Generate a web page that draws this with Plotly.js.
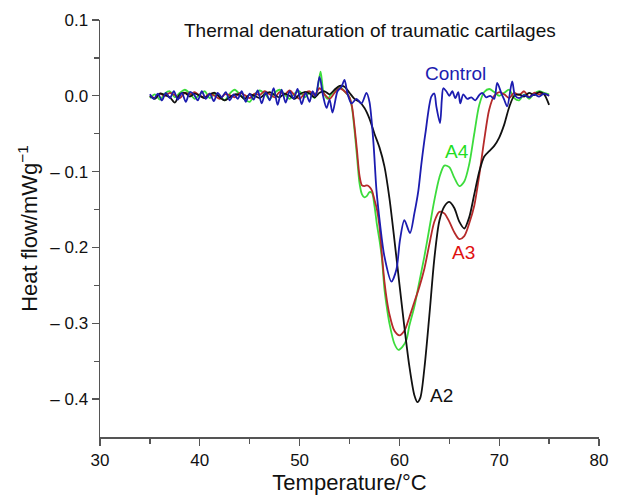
<!DOCTYPE html>
<html>
<head>
<meta charset="utf-8">
<script src="https://cdn.plot.ly/plotly-3.0.1.min.js"></script>
<style>html,body{margin:0;padding:0;background:#fff;}#chart{width:630px;height:495px;}</style>
</head>
<body>
<div id="chart"></div>
<script>
// Temperature (°C) and heat flow (mW/g)
var tA2 = [35,35.5,36,36.5,37,37.5,38,38.5,39,39.5,40,40.5,41,41.5,42,42.5,43,43.5,44,44.5,45,45.5,46,46.5,47,47.5,48,48.5,49,49.5,50,50.5,51,51.5,52,52.5,53,53.5,54,54.5,55,55.5,56,56.5,57,57.5,58,58.5,59,59.5,60,60.5,61,61.5,61.8,62.1,62.5,63,63.5,64,64.5,65,65.5,66,66.5,67,67.5,68,68.5,69,69.5,70,70.5,71,71.5,72,72.5,73,73.5,74,74.5,75];
var hA2 = [0.000,-0.004,0.003,0.001,-0.002,-0.009,0.002,0.004,-0.001,0.003,0.000,-0.003,0.002,0.004,-0.002,-0.006,-0.002,0.002,0.001,-0.004,0.002,0.000,-0.003,0.002,0.005,0.001,-0.002,0.003,0.000,-0.004,0.002,0.005,0.003,-0.002,0.004,0.006,0.002,0.008,0.013,0.012,0.004,-0.004,-0.008,-0.016,-0.030,-0.050,-0.068,-0.093,-0.135,-0.190,-0.248,-0.305,-0.357,-0.395,-0.404,-0.398,-0.360,-0.290,-0.215,-0.165,-0.146,-0.140,-0.148,-0.166,-0.175,-0.160,-0.130,-0.100,-0.080,-0.073,-0.066,-0.055,-0.038,-0.015,0.000,0.002,-0.001,0.004,0.001,0.005,0.002,-0.012];

var tA3 = [35,35.5,36,36.5,37,37.5,38,38.5,39,39.5,40,40.5,41,41.5,42,42.5,43,43.5,44,44.5,45,45.5,46,46.5,47,47.5,48,48.5,49,49.5,50,50.5,51,51.5,52,52.5,53,53.5,54,54.5,55,55.25,55.5,55.75,56,56.25,56.5,56.75,57,57.25,57.5,57.75,58,58.25,58.5,58.75,59,59.5,60,60.5,61,61.5,62,62.5,63,63.5,64,64.5,65,65.5,66,66.5,67,67.5,68,68.5,69,69.5,70,70.5,71,71.5,72,72.5,73,73.5,74,74.5,75];
var hA3 = [0.000,-0.003,0.003,0.000,0.004,0.001,-0.003,0.004,0.002,0.005,0.000,-0.002,0.003,0.000,-0.004,0.002,0.001,-0.002,0.004,0.001,-0.003,0.003,0.001,0.006,0.002,-0.002,0.005,0.002,0.007,0.001,-0.004,0.003,0.006,0.001,0.010,0.002,-0.004,0.004,0.010,0.006,-0.002,-0.014,-0.040,-0.072,-0.105,-0.118,-0.119,-0.118,-0.120,-0.125,-0.137,-0.150,-0.172,-0.210,-0.245,-0.270,-0.288,-0.310,-0.316,-0.310,-0.292,-0.272,-0.252,-0.228,-0.196,-0.166,-0.153,-0.155,-0.166,-0.180,-0.189,-0.185,-0.168,-0.145,-0.105,-0.058,-0.018,0.000,0.005,0.002,-0.003,0.004,0.001,0.006,-0.002,0.004,0.002,0.003,0.000];

var tA4 = [35,35.5,36,36.5,37,37.5,38,38.5,39,39.5,40,40.5,41,41.5,42,42.5,43,43.5,44,44.5,45,45.5,46,46.5,47,47.5,48,48.5,49,49.5,50,50.5,51,51.5,51.8,52.1,52.4,52.8,53.2,53.6,54,54.5,55,55.25,55.5,55.75,56,56.25,56.5,56.75,57,57.25,57.5,57.75,58,58.25,58.5,58.75,59,59.5,59.9,60.3,60.7,61,61.5,62,62.5,63,63.5,64,64.5,65,65.5,66,66.5,67,67.5,68,68.5,69,69.5,70,70.5,71,71.5,72,72.5,73,73.5,74,74.5,75];
var hA4 = [-0.003,0.002,-0.005,0.003,0.006,-0.002,0.004,0.008,0.003,-0.004,0.002,0.006,-0.003,0.003,0.000,-0.006,0.003,0.008,0.002,-0.005,-0.008,0.002,0.007,0.003,-0.004,0.004,0.008,0.002,-0.004,0.003,0.006,-0.002,0.004,-0.003,0.010,0.032,0.005,-0.004,0.003,0.008,0.012,0.006,-0.002,-0.016,-0.045,-0.080,-0.115,-0.130,-0.134,-0.132,-0.127,-0.128,-0.145,-0.170,-0.190,-0.215,-0.255,-0.280,-0.300,-0.327,-0.335,-0.331,-0.322,-0.303,-0.278,-0.245,-0.212,-0.175,-0.138,-0.108,-0.092,-0.094,-0.108,-0.119,-0.113,-0.090,-0.050,-0.012,0.005,0.009,0.005,0.000,0.004,0.008,-0.003,-0.006,0.002,-0.004,0.003,0.006,0.004,0.002];

var tCtrl = [35,35.4,35.8,36.2,36.6,37,37.4,37.8,38.2,38.6,39,39.4,39.8,40.2,40.6,41,41.4,41.8,42.2,42.6,43,43.4,43.8,44.2,44.6,45,45.4,45.8,46.2,46.6,47,47.4,47.8,48.2,48.6,49,49.4,49.8,50.2,50.6,51,51.3,51.6,52,52.35,52.7,53,53.3,53.8,54.2,54.5,54.8,55.2,55.7,56.2,56.7,57,57.4,57.7,58.05,58.5,59.2,59.7,60.06,60.5,61.06,61.5,61.9,62.2,62.6,63.2,63.5,63.7,64.07,64.25,64.4,64.7,65,65.3,65.6,65.9,66.1,66.4,66.8,67.2,67.6,68,68.3,68.7,69.1,69.5,69.8,70.2,70.5,70.8,71.3,71.6,72,72.5,73,73.5,74,74.5,75];
var hCtrl = [0.002,-0.004,0.003,-0.006,0.004,-0.003,0.006,-0.005,0.004,-0.008,0.005,0.002,-0.006,0.006,-0.004,0.003,-0.007,0.004,-0.002,0.005,-0.006,0.002,-0.004,0.006,-0.008,0.003,-0.005,0.007,-0.010,0.005,-0.006,0.010,-0.012,0.008,-0.009,0.006,-0.004,0.009,-0.011,0.004,-0.008,0.006,0.000,0.025,0.000,-0.016,-0.005,-0.022,0.006,0.012,0.021,0.003,-0.010,-0.004,-0.010,0.004,-0.008,-0.062,-0.124,-0.168,-0.212,-0.245,-0.229,-0.190,-0.164,-0.181,-0.155,-0.125,-0.090,-0.050,-0.001,0.003,-0.014,-0.036,-0.005,0.010,0.006,0.000,0.006,-0.003,0.005,-0.010,0.002,-0.004,-0.002,-0.006,0.001,0.004,-0.002,0.000,-0.004,0.017,0.004,-0.005,-0.014,0.019,0.000,-0.003,0.001,-0.002,0.002,-0.001,0.003,0.000];

var yTickVals = [0.1, 0.0, -0.1, -0.2, -0.3, -0.4];
var yTickText = ["0.1", "0.0", "\u2013 0.1", "\u2013 0.2", "\u2013 0.3", "\u2013 0.4"];

var seriesNames = ["A4", "A3", "A2", "Control"];
var seriesColors = ["#3cdc3c", "#b52a2a", "#111111", "#1c1cb0"];
var labelColors = ["#22dd22", "#e01010", "#111111", "#1c1cb0"];
var labelT = [65.8, 66.4, 64.2, 65.6];
var labelH = [-0.074, -0.207, -0.395, 0.029];

var xs = [tA4, tA3, tA2, tCtrl];
var ys = [hA4, hA3, hA2, hCtrl];

var FONT = "Liberation Sans, Arial, Helvetica, sans-serif";

var traces = xs.map(function (x, i) {
  return {
    x: x, y: ys[i], type: "scatter", mode: "lines", name: seriesNames[i],
    line: {color: seriesColors[i], width: 1.8, shape: "spline", smoothing: 0.8}
  };
});

var annotations = seriesNames.map(function (n, i) {
  return {x: labelT[i], y: labelH[i], xref: "x", yref: "y", text: n, showarrow: false,
    font: {family: FONT, size: 19, color: labelColors[i]},
    xanchor: "center", yanchor: "middle"};
});
annotations.push({
  x: 0.541, y: 0.975, xref: "paper", yref: "paper", text: "Thermal denaturation of traumatic cartilages",
  showarrow: false, xanchor: "center", yanchor: "middle",
  font: {family: FONT, size: 19, color: "#111"}
});

var layout = {
  width: 630, height: 495,
  margin: {l: 100, r: 31, t: 20, b: 58},
  paper_bgcolor: "#fff", plot_bgcolor: "#fff",
  showlegend: false,
  font: {family: FONT, color: "#111"},
  xaxis: {
    range: [30, 80], dtick: 10, tick0: 30, ticks: "outside", ticklen: 7, tickwidth: 1.3, tickcolor: "#555",
    showline: true, linecolor: "#555", linewidth: 1.5, showgrid: false, zeroline: false,
    minor: {dtick: 5, ticks: "outside", ticklen: 5, tickwidth: 1.2, tickcolor: "#555", showgrid: false},
    tickfont: {size: 17, color: "#111"},
    title: {text: "Temperature/\u00b0C", font: {size: 22, color: "#111"}, standoff: 2}
  },
  yaxis: {
    range: [-0.45, 0.1], tickvals: yTickVals, ticktext: yTickText, ticks: "outside", ticklen: 7, tickwidth: 1.3, tickcolor: "#555",
    showline: true, linecolor: "#555", linewidth: 1.5, showgrid: false, zeroline: false,
    minor: {tickvals: [0.05, -0.05, -0.15, -0.25, -0.35], ticks: "outside", ticklen: 5, tickwidth: 1.2, tickcolor: "#555", showgrid: false},
    tickfont: {size: 17, color: "#111"},
    title: {text: "Heat flow/mWg<sup>\u22121</sup>", font: {size: 22, color: "#111"}, standoff: 6}
  },
  annotations: annotations
};

Plotly.newPlot("chart", traces, layout, {displayModeBar: false, staticPlot: true});
</script>
</body>
</html>
